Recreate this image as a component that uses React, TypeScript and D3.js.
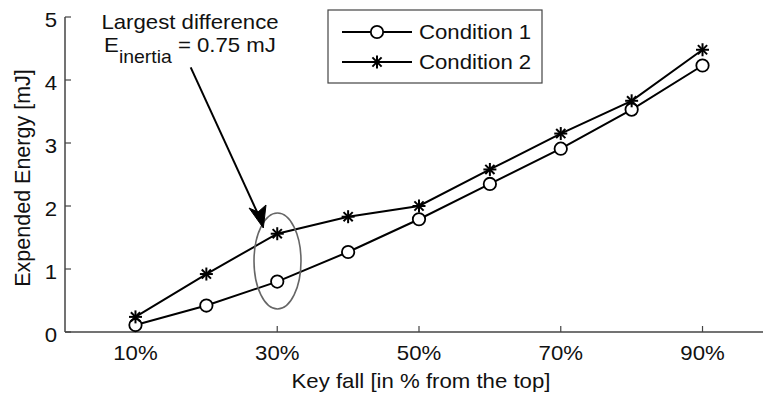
import React from "react";
import * as d3 from "d3";

const keyFall = [10, 20, 30, 40, 50, 60, 70, 80, 90];
const condition1 = [0.11, 0.42, 0.8, 1.27, 1.79, 2.35, 2.91, 3.53, 4.23];
const condition2 = [0.24, 0.92, 1.56, 1.83, 2.0, 2.58, 3.15, 3.67, 4.48];
const xTicks = [10, 30, 50, 70, 90];
const yTicks = [0, 1, 2, 3, 4, 5];
const seriesNames = ["Condition 1", "Condition 2"];

const W = 764, H = 396;
const FONT = "'Liberation Sans', Arial, sans-serif";
const SX = 1.11;
const FS = 20;

function Star({ x, y, r }: { x: number; y: number; r: number }) {
  const parts = [0, 45, 90, 135].map((a) => {
    const rad = (a * Math.PI) / 180;
    return (
      <line key={a} x1={x - r * Math.cos(rad)} y1={y - r * Math.sin(rad)} x2={x + r * Math.cos(rad)} y2={y + r * Math.sin(rad)} stroke="#000" strokeWidth={2} />
    );
  });
  return <g>{parts}</g>;
}

function T({ x, y, anchor = "start", size = FS, children, dy }: any) {
  return (
    <g transform={`translate(${x},${y}) scale(${SX},1)`}>
      <text x={0} y={0} dy={dy} textAnchor={anchor} fontSize={size} fill="#111">{children}</text>
    </g>
  );
}

export default function App() {
  const x = d3.scaleLinear().domain([0, 100]).range([64.6, 773.4]);
  const y = d3.scaleLinear().domain([0, 5]).range([332, 17]);
  const xEnd = 763;
  const line = d3.line<number>().x((_, i) => x(keyFall[i])).y((d) => y(d));
  const axisColor = "#444";

  return (
    <div style={{ position: "fixed", left: 0, top: 0, width: W, height: H, overflow: "hidden" }}>
      <svg width={W} height={H} style={{ display: "block", fontFamily: FONT }}>
        <rect width={W} height={H} fill="#fff" />
        {/* axes */}
        <line x1={65} y1={y(0)} x2={xEnd} y2={y(0)} stroke={axisColor} strokeWidth={1.5} />
        <line x1={65} y1={y(0)} x2={65} y2={y(5)} stroke={axisColor} strokeWidth={1.5} />
        {yTicks.map((t) => (
          <g key={t}>
            <line x1={65} x2={71} y1={y(t)} y2={y(t)} stroke={axisColor} strokeWidth={1.2} />
            <T x={57} y={y(t) + 10} anchor="end">{t}</T>
          </g>
        ))}
        {xTicks.map((t) => (
          <g key={t}>
            <line x1={x(t)} x2={x(t)} y1={y(0)} y2={y(0) - 6} stroke={axisColor} strokeWidth={1.2} />
            <T x={x(t)} y={360} anchor="middle">{t}%</T>
          </g>
        ))}
        <T x={421} y={388} anchor="middle">Key fall [in % from the top]</T>
        <text transform="translate(30,178) rotate(-90)" textAnchor="middle" fontSize={21.5} fill="#111">Expended Energy [mJ]</text>

        {/* series */}
        <path d={line(condition1) || ""} fill="none" stroke="#000" strokeWidth={2} />
        <path d={line(condition2) || ""} fill="none" stroke="#000" strokeWidth={2} />
        {condition1.map((v, i) => (
          <circle key={i} cx={x(keyFall[i])} cy={y(v)} r={6.2} fill="#fff" stroke="#000" strokeWidth={1.8} />
        ))}
        {condition2.map((v, i) => (
          <Star key={i} x={x(keyFall[i])} y={y(v)} r={6.5} />
        ))}

        {/* annotation */}
        <ellipse cx={277.5} cy={261} rx={23.5} ry={48} fill="none" stroke="#666" strokeWidth={1.6} />
        <line x1={190.7} y1={67.3} x2={258} y2={214} stroke="#000" strokeWidth={2} />
        <path d="M 263.3 228 L 249 208 L 258 212 L 266 205 Z" fill="#000" stroke="#000" strokeWidth={1} />
        <T x={190} y={29} anchor="middle">Largest difference</T>
        <g transform={`translate(190,52) scale(${SX},1)`}>
          <text x={0} y={0} textAnchor="middle" fontSize={FS} fill="#111">
            <tspan>E</tspan>
            <tspan dy={11} fontSize={17.5}>inertia</tspan>
            <tspan dy={-11}> = 0.75 mJ</tspan>
          </text>
        </g>

        {/* legend */}
        <rect x={328} y={10} width={214} height={73} fill="#fff" stroke="#444" strokeWidth={1.2} />
        <line x1={342} x2={412} y1={32} y2={32} stroke="#000" strokeWidth={2} />
        <circle cx={377} cy={32} r={6.2} fill="#fff" stroke="#000" strokeWidth={1.8} />
        <T x={419} y={39}>{seriesNames[0]}</T>
        <line x1={342} x2={412} y1={62} y2={62} stroke="#000" strokeWidth={2} />
        <Star x={377} y={62} r={6.5} />
        <T x={419} y={69}>{seriesNames[1]}</T>
      </svg>
    </div>
  );
}
